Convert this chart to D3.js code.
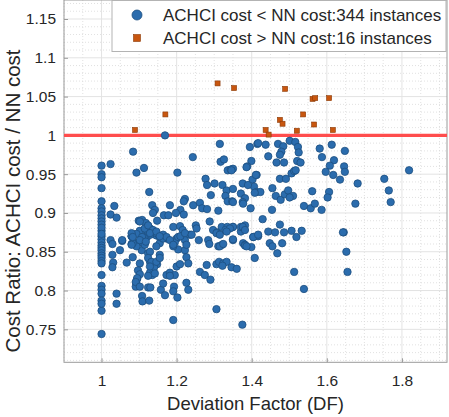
<!DOCTYPE html>
<html><head><meta charset="utf-8">
<script src="https://cdn.jsdelivr.net/npm/d3@7"></script>
<style>html,body{margin:0;padding:0;background:#fff;}svg{display:block;font-family:"Liberation Sans",Arial,Helvetica,sans-serif;}</style>
</head><body>
<svg id="c" width="449" height="417"></svg>
<script>
const xTicks = [1, 1.2, 1.4, 1.6, 1.8];
const yTicks = [0.75, 0.8, 0.85, 0.9, 0.95, 1, 1.05, 1.1, 1.15];
const xLabel = "Deviation Factor (DF)";
const yLabel = "Cost Ratio: ACHCI cost / NN cost";
const legendLabels = ["ACHCI cost < NN cost:344 instances", "ACHCI cost > NN cost:16 instances"];
const refLine = 1;

// ACHCI cost < NN cost (DF, ratio)
const lowerX = [1.169,1.084,1.024,1.00,1.00,1.00,1.00,1.093,1.113,1.202,1.243,1.315,1.317,1.326,1.336,1.344,1.350,1.395,1.415,1.399,1.388,1.413,1.402,1.376,1.406,1.413,1.371,1.382,1.376,1.397,1.277,1.281,1.301,1.322,1.333,1.350,1.330,1.336,1.348,1.291,1.127,1.00,1.00,1.00,1.00,1.034,1.024,1.040,1.135,1.142,1.137,1.182,1.222,1.219,1.244,1.262,1.268,1.281,1.311,1.210,1.198,1.219,1.166,1.178,1.148,
1.00,1.00,1.00,1.00,1.00,1.00,1.00,1.00,1.00,1.00,1.00,1.00,1.00,1.00,1.00,1.00,1.00,1.00,1.00,
1.024,1.029,1.055,1.029,1.031,1.029,1.049,1.040,1.040,1.080,1.080,1.083,1.067,1.093,1.102,1.107,1.102,1.097,1.102,1.095,1.093,1.091,1.108,1.109,1.127,1.124,1.124,1.129,1.137,1.135,1.148,1.140,1.129,1.135,1.124,1.142,1.155,1.158,1.164,1.169,1.173,1.182,1.195,1.191,1.193,1.191,1.202,1.200,1.209,1.204,1.222,1.226,1.231,1.226,1.231,1.262,1.275,1.290,1.280,1.306,1.313,1.324,1.333,1.322,1.346,1.360,1.306,1.375,1.311,1.321,1.377,1.382,1.350,1.399,1.408,1.404,1.417,1.284,1.287,1.259,
1.371,1.382,1.444,1.462,1.486,1.506,1.519,1.533,1.448,1.455,1.481,1.468,1.513,1.539,1.645,1.652,1.655,
1.417,1.437,1.470,1.484,1.479,1.475,1.501,1.516,1.523,1.525,1.444,1.466,1.486,1.521,1.530,1.581,1.613,1.648,1.587,1.619,1.608,1.646,1.648,1.597,1.617,1.635,1.682,1.753,1.765,1.770,1.819,1.676,1.386,1.346,1.411,1.390,1.455,1.464,1.477,1.488,1.497,1.510,1.501,1.475,1.491,1.506,1.513,1.517,1.561,1.606,1.602,1.539,1.557,1.568,1.586,1.454,1.429,1.475,1.350,1.371,1.382,1.643,
1.099,1.108,1.118,1.124,1.129,1.113,1.102,1.055,1.080,1.093,1.121,1.137,1.146,1.191,1.209,1.216,1.251,1.253,1.288,1.297,1.308,1.320,1.335,1.350,1.376,1.404,1.350,1.315,1.191,1.200,1.222,1.226,1.235,1.164,1.173,1.155,1.146,1.115,1.093,
1.083,1.108,1.130,1.330,1.342,1.382,1.417,1.386,1.324,1.195,1.124,1.146,1.155,1.164,1.173,1.182,1.191,1.204,1.210,1.222,1.240,1.306,1.315,1.333,1.080,1.083,1.080,1.102,1.115,1.124,1.137,1.129,1.146,1.155,1.102,1.118,1.129,1.124,1.133,1.146,1.155,1.129,1.095,1.091,1.102,1.130,1.423,1.408,1.350,1.377,1.182,
1.00,1.00,1.00,1.00,1.00,1.00];
const lowerY = [1.000,0.979,0.963,0.961,0.950,0.946,0.932,0.952,0.958,0.952,0.972,0.989,0.966,0.969,0.955,0.956,0.957,0.985,0.989,0.967,0.960,0.949,0.943,0.938,0.934,0.927,0.925,0.919,0.914,0.906,0.944,0.936,0.938,0.936,0.929,0.931,0.922,0.915,0.915,0.923,0.927,0.915,0.906,0.902,0.897,0.909,0.898,0.894,0.910,0.904,0.900,0.910,0.918,0.915,0.910,0.913,0.906,0.905,0.903,0.904,0.900,0.898,0.897,0.897,0.890,
0.877,0.870,0.866,0.862,0.858,0.855,0.852,0.848,0.845,0.842,0.838,0.835,0.820,0.806,0.801,0.796,0.787,0.774,0.744,
0.865,0.860,0.864,0.846,0.836,0.830,0.852,0.796,0.783,0.870,0.860,0.843,0.836,0.861,0.862,0.852,0.835,0.826,0.821,0.815,0.809,0.805,0.793,0.786,0.787,0.804,0.848,0.837,0.835,0.833,0.834,0.830,0.823,0.820,0.819,0.822,0.846,0.801,0.809,0.794,0.820,0.823,0.820,0.762,0.805,0.799,0.791,0.831,0.834,0.853,0.852,0.843,0.835,0.810,0.801,0.824,0.820,0.814,0.833,0.834,0.837,0.835,0.837,0.832,0.830,0.828,0.776,0.756,0.857,0.859,0.861,0.859,0.865,0.856,0.842,0.869,0.870,0.865,0.860,0.865,
0.876,0.858,0.876,0.875,0.875,0.877,0.869,0.877,0.861,0.857,0.861,0.848,0.824,0.802,0.875,0.850,0.824,
0.990,0.988,0.989,0.986,0.979,0.975,0.993,0.9915,0.985,0.978,0.973,0.965,0.965,0.967,0.965,0.983,0.988,0.980,0.972,0.968,0.961,0.960,0.953,0.953,0.949,0.943,0.938,0.944,0.929,0.914,0.955,0.912,0.959,0.955,0.949,0.936,0.932,0.922,0.917,0.924,0.929,0.922,0.920,0.944,0.944,0.951,0.954,0.955,0.928,0.927,0.920,0.909,0.906,0.912,0.904,0.904,0.892,0.885,0.882,0.882,0.884,0.875,
0.890,0.891,0.887,0.883,0.880,0.878,0.877,0.865,0.870,0.873,0.869,0.874,0.871,0.882,0.883,0.878,0.884,0.880,0.889,0.878,0.875,0.882,0.882,0.882,0.882,0.869,0.866,0.857,0.857,0.867,0.865,0.859,0.872,0.872,0.867,0.861,0.857,0.859,0.857,
0.861,0.869,0.872,0.878,0.880,0.878,0.872,0.857,0.860,0.862,0.876,0.874,0.869,0.867,0.869,0.865,0.859,0.869,0.870,0.874,0.872,0.874,0.872,0.876,0.874,0.869,0.859,0.889,0.880,0.884,0.878,0.874,0.876,0.870,0.865,0.863,0.850,0.842,0.837,0.837,0.842,0.831,0.816,0.811,0.805,0.804,0.927,0.926,0.914,0.912,0.819,
0.893,0.889,0.885,0.881,0.873,0.783];

// ACHCI cost > NN cost
const upperX = [1.089,1.170,1.309,1.353,1.489,1.437,1.445,1.475,1.482,1.520,1.537,1.562,1.569,1.566,1.606,1.616];
const upperY = [1.007,1.027,1.067,1.061,1.060,1.007,1.001,1.020,1.015,1.006,1.027,1.047,1.048,1.014,1.048,1.007];

const L = 64, R = 447, T = 0, B = 362.3;
const svg = d3.select("#c");
const x = d3.scaleLinear().domain([0.9, 1.92]).range([L, R]);
const y = d3.scaleLinear().domain([0.7075, 1.1745]).range([B, T]);

const g = svg.append("g");
const xMinor = d3.range(0.9, 1.921, 0.05).filter(v => !xTicks.some(t => Math.abs(t - v) < 1e-6));
const yMinor = d3.range(0.71, 1.175, 0.01).filter(v => !yTicks.some(t => Math.abs(t - v) < 1e-6));
g.selectAll(".xm").data(xMinor).enter().append("line")
  .attr("x1", d => x(d)).attr("x2", d => x(d)).attr("y1", T).attr("y2", B)
  .attr("stroke", "#d9d9d9").attr("stroke-width", 0.8).attr("stroke-dasharray", "1,2");
g.selectAll(".ym").data(yMinor).enter().append("line")
  .attr("y1", d => y(d)).attr("y2", d => y(d)).attr("x1", L).attr("x2", R)
  .attr("stroke", "#d9d9d9").attr("stroke-width", 0.8).attr("stroke-dasharray", "1,2");
g.selectAll(".xg").data(xTicks).enter().append("line")
  .attr("x1", d => x(d)).attr("x2", d => x(d)).attr("y1", T).attr("y2", B)
  .attr("stroke", "#e3e3e3").attr("stroke-width", 1);
g.selectAll(".yg").data(yTicks).enter().append("line")
  .attr("y1", d => y(d)).attr("y2", d => y(d)).attr("x1", L).attr("x2", R)
  .attr("stroke", "#e3e3e3").attr("stroke-width", 1);

const xAxis = d3.axisBottom(x).tickValues(xTicks).tickSize(-4).tickPadding(13).tickFormat(d3.format("~g"));
const yAxis = d3.axisLeft(y).tickValues(yTicks).tickSize(-4).tickPadding(8).tickFormat(d3.format("~g"));
const gx = svg.append("g").attr("transform", `translate(0,${B})`).call(xAxis);
const gy = svg.append("g").attr("transform", `translate(${L},0)`).call(yAxis);
[gx, gy].forEach(a => {
  a.select(".domain").remove();
  a.selectAll(".tick line").attr("stroke", "#9a9a9a");
  a.selectAll(".tick text").attr("fill", "#262626").style("font-size", "15.5px")
    .style("font-family", '"Liberation Sans",Arial,sans-serif');
});
svg.append("rect").attr("x", L).attr("y", T).attr("width", R - L).attr("height", B - T)
  .attr("fill", "none").attr("stroke", "#9a9a9a").attr("stroke-width", 1);

svg.append("line").attr("x1", L).attr("x2", R).attr("y1", y(refLine)).attr("y2", y(refLine))
  .attr("stroke", "#ff4d4d").attr("stroke-width", 3.2);

const lower = lowerX.map((v, i) => [v, lowerY[i]]);
const upper = upperX.map((v, i) => [v, upperY[i]]);
svg.append("g").selectAll("circle").data(lower).enter().append("circle")
  .attr("cx", d => x(d[0])).attr("cy", d => y(d[1])).attr("r", 3.7)
  .attr("fill", "#2b6cad").attr("stroke", "#1d4f80").attr("stroke-width", 0.8);
const s = 5;
svg.append("g").selectAll("rect").data(upper).enter().append("rect")
  .attr("x", d => x(d[0]) - s / 2).attr("y", d => y(d[1]) - s / 2).attr("width", s).attr("height", s)
  .attr("fill", "#c8560f").attr("stroke", "#8a3a08").attr("stroke-width", 0.6);

svg.append("text").attr("x", (L + R) / 2).attr("y", 410).attr("text-anchor", "middle")
  .attr("fill", "#262626").style("font-size", "18.5px").text(xLabel);
svg.append("text").attr("transform", `translate(20,201) rotate(-90)`).attr("text-anchor", "middle")
  .attr("fill", "#262626").style("font-size", "20.5px").text(yLabel);

const lg = svg.append("g");
lg.append("rect").attr("x", 112).attr("y", 0.5).attr("width", 334).attr("height", 51)
  .attr("fill", "#fff").attr("stroke", "#b3b3b3").attr("stroke-width", 1);
lg.append("circle").attr("cx", 137).attr("cy", 15).attr("r", 5)
  .attr("fill", "#2b6cad").attr("stroke", "#1d4f80").attr("stroke-width", 0.8);
lg.append("rect").attr("x", 137 - 3.5).attr("y", 38 - 3.5).attr("width", 7).attr("height", 7)
  .attr("fill", "#c8560f").attr("stroke", "#8a3a08").attr("stroke-width", 0.6);
lg.selectAll("text").data(legendLabels).enter().append("text")
  .attr("x", 163).attr("y", (d, i) => 21 + i * 23)
  .attr("fill", "#262626").style("font-size", "17px").text(d => d);
</script>
</body></html>
